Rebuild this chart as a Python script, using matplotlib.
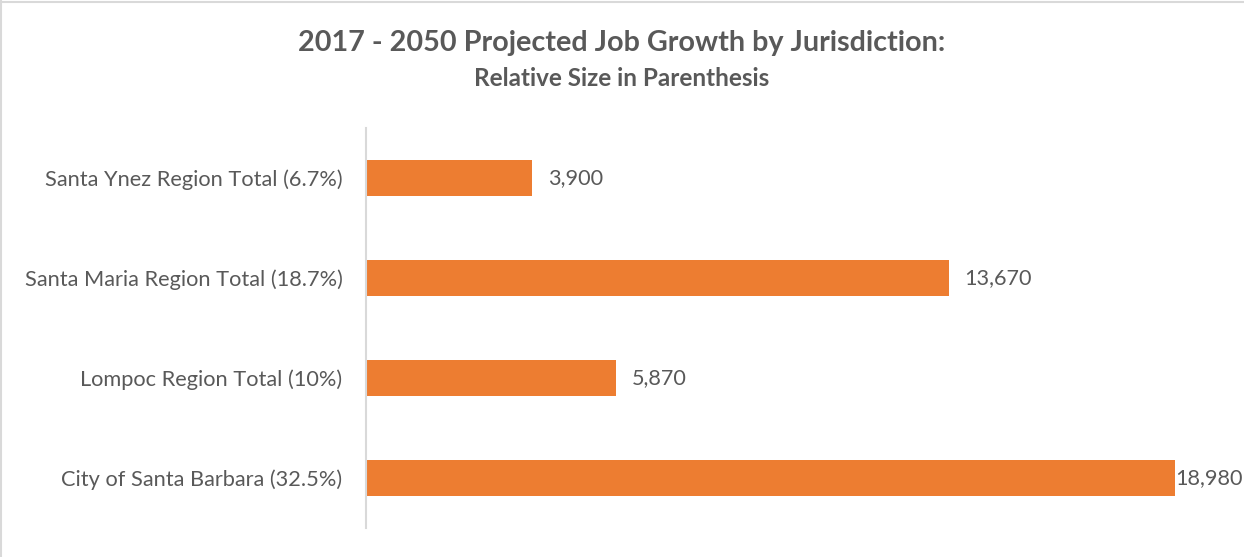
import matplotlib.pyplot as plt
from matplotlib.lines import Line2D

plt.rcParams['font.family'] = ['Lato', 'DejaVu Sans']

# categories top to bottom as in the chart
categories = ['Santa Ynez Region Total (6.7%)', 'Santa Maria Region Total (18.7%)',
              'Lompoc Region Total (10%)', 'City of Santa Barbara (32.5%)']
jobs = [3900, 13670, 5870, 18980]
value_labels = ['3,900', '13,670', '5,870', '18,980']

bar_color = '#ED7D31'
text_color = '#595959'

fig = plt.figure(figsize=(12.44, 5.57), dpi=100)
ax = fig.add_axes([366 / 1244, 1 - 528 / 557, 853 / 1244, 400 / 557])

ypos = list(range(len(categories)))
ax.barh(ypos, jobs, height=0.36, color=bar_color)
ax.set_ylim(len(categories) - 0.5, -0.5)
ax.set_xlim(0, 20000)
ax.set_yticks(ypos)
ax.set_yticklabels(categories, fontsize=15.7, color=text_color)
ax.tick_params(axis='y', length=0, pad=17)
ax.set_xticks([])
for s in ['top', 'right', 'bottom']:
    ax.spines[s].set_visible(False)
ax.spines['left'].set_color('#D9D9D9')
ax.spines['left'].set_linewidth(1.5)

for i, (v, lab) in enumerate(zip(jobs, value_labels)):
    off = 11 if i < len(jobs) - 1 else 0
    ax.annotate(lab, (v, i), xytext=(off, 0), textcoords='offset points',
                va='center', ha='left', fontsize=15.6, color=text_color)

fig.text(0.5, 1 - 43 / 557, '2017 - 2050 Projected Job Growth by Jurisdiction:',
         ha='center', va='center', fontsize=20.7, fontweight='bold', color=text_color)
fig.text(0.5, 1 - 78 / 557, 'Relative Size in Parenthesis',
         ha='center', va='center', fontsize=17.5, fontweight='bold', color=text_color)

# chart border (top and left visible)
fig.add_artist(Line2D([0, 1], [1 - 2 / 557, 1 - 2 / 557], color='#D9D9D9', lw=1.5))
fig.add_artist(Line2D([1 / 1244, 1 / 1244], [0, 1], color='#D9D9D9', lw=1.5))

fig.savefig('out.png', dpi=100)
